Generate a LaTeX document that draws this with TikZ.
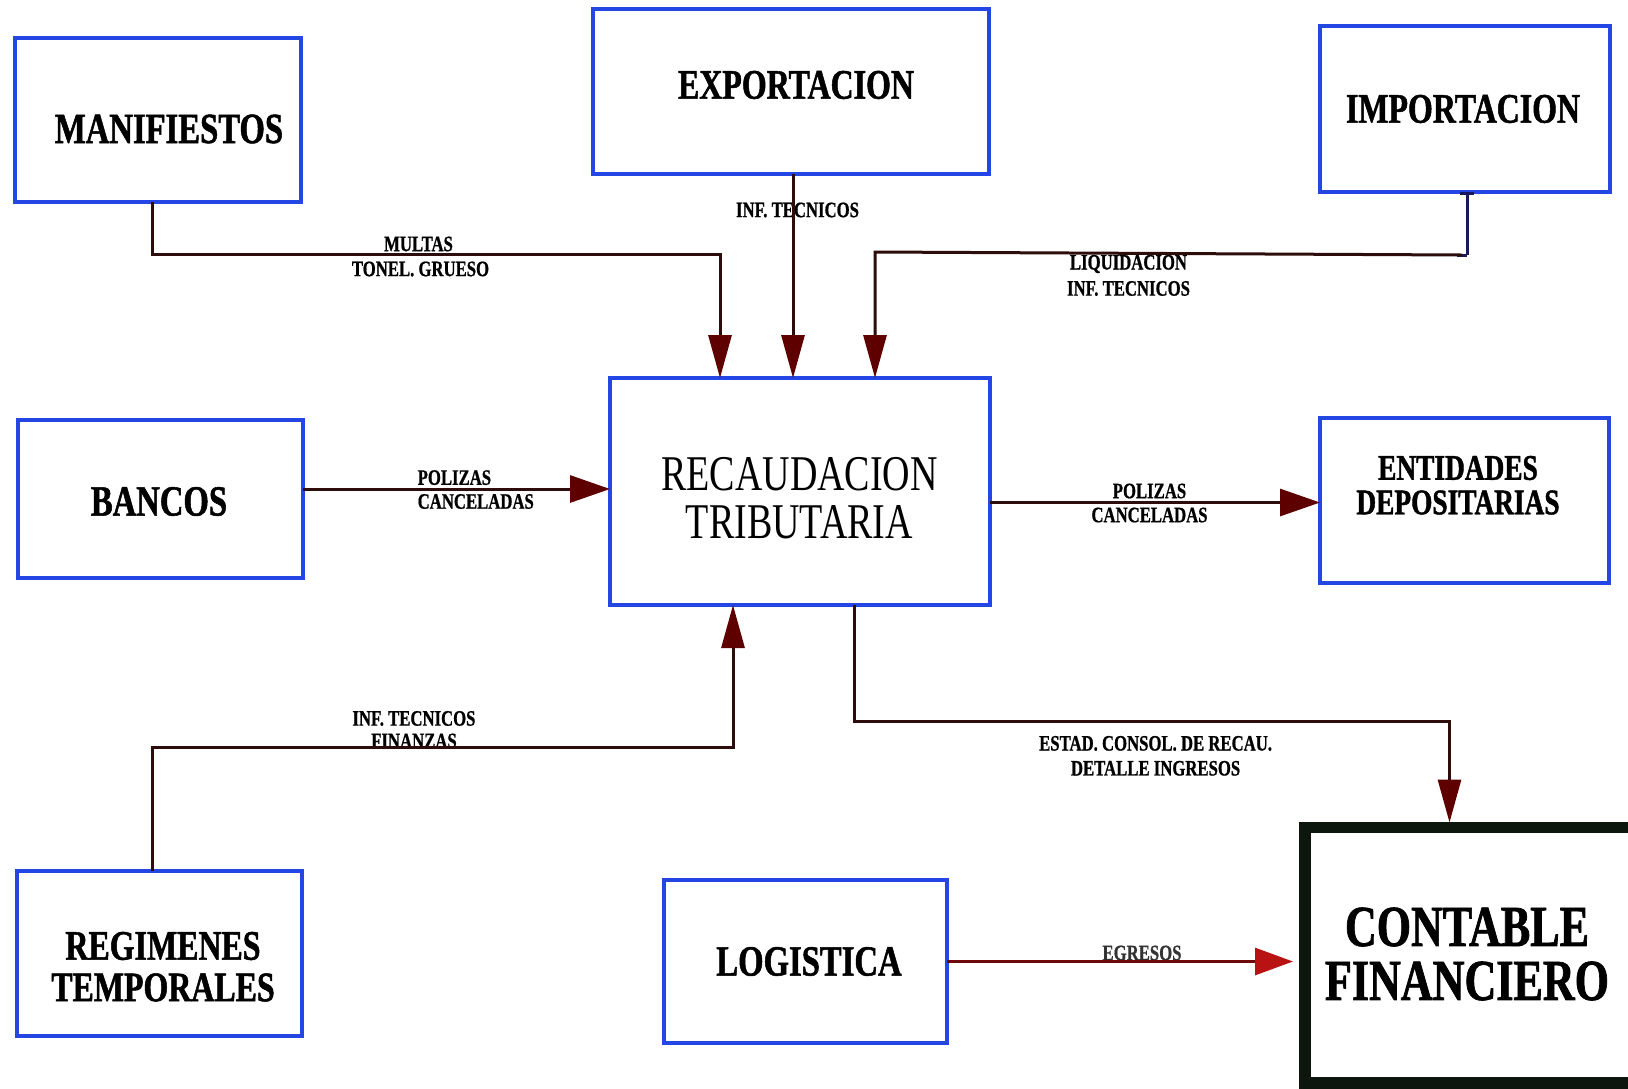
\documentclass[tikz,border=0pt]{standalone}
\usepackage{fontspec}
\setmainfont{Liberation Serif}
\newfontfamily\boxfont[FakeStretch=0.76, BoldFeatures={FakeBold=1.2}]{Liberation Serif}
\newfontfamily\lblfont[FakeStretch=0.76, BoldFeatures={FakeBold=0.8}]{Liberation Serif}
\usetikzlibrary{arrows.meta,calc}

\definecolor{boxblue}{RGB}{35,70,228}
\definecolor{flowline}{RGB}{45,12,12}
\definecolor{tipred}{RGB}{95,0,0}
\definecolor{brightred}{RGB}{185,18,18}
\definecolor{navyline}{RGB}{25,25,90}
\definecolor{framedark}{RGB}{12,22,12}

\begin{document}
\begin{tikzpicture}[x=1pt,y=-1pt,
  box/.style={draw=boxblue, line width=4.5pt, inner sep=0pt, outer sep=0pt, rectangle},
  bigbox/.style={draw=framedark, line width=11.5pt, inner sep=0pt, outer sep=0pt, rectangle},
  title/.style={inner sep=0pt, align=center, font=\boxfont\bfseries\fontsize{#1}{#1}\selectfont},
  lbl/.style={inner sep=0pt, align=center, font=\lblfont\bfseries\fontsize{22}{24.5}\selectfont},
  flow/.style={draw=flowline, line width=3pt},
  tipv/.style={-{Triangle[length=43pt,width=23pt,color=tipred]}},
  tiph/.style={-{Triangle[length=40pt,width=27pt,color=tipred]}},
]
\clip (0,0) rectangle (1628,1088);
\fill[white] (0,0) rectangle (1628,1088);

% ---- boxes ----
\node[box, minimum width=286pt, minimum height=164pt] (man) at (158,120) {};
\node[box, minimum width=396pt, minimum height=165pt] (exp) at (791,91.5) {};
\node[box, minimum width=290pt, minimum height=166pt] (imp) at (1465,109) {};
\node[box, minimum width=380pt, minimum height=227pt] (rec) at (800,491.5) {};
\node[box, minimum width=285pt, minimum height=158pt] (ban) at (160.5,499) {};
\node[box, minimum width=289pt, minimum height=165pt] (ent) at (1464.5,500.5) {};
\node[box, minimum width=285pt, minimum height=165pt] (reg) at (159.5,953.5) {};
\node[box, minimum width=283pt, minimum height=163pt] (log) at (805.5,961.5) {};
\node[bigbox, minimum width=340pt, minimum height=255.5pt] (con) at (1475,955.25) {};

% ---- box titles ----
\node[title=43] (manT) at (169,129) {MANIFIESTOS};
\node[title=42] (expT) at (796,85) {EXPORTACION};
\node[title=42] (impT) at (1463,109) {IMPORTACION};
\node[inner sep=0pt, align=center, font=\boxfont\fontsize{50}{47.5}\selectfont] (recT) at (799.5,498.25) {RECAUDACION\\TRIBUTARIA};
\node[title=43] (banT) at (159,501.5) {BANCOS};
\node[inner sep=0pt, align=center, font=\boxfont\bfseries\fontsize{36}{34.5}\selectfont] (entT) at (1458,485.25) {ENTIDADES\\DEPOSITARIAS};
\node[inner sep=0pt, align=center, font=\boxfont\bfseries\fontsize{42}{41.5}\selectfont] (regT) at (163,966.75) {REGIMENES\\TEMPORALES};
\node[title=43] (logT) at (809,961.5) {LOGISTICA};
\node[inner sep=0pt, align=center, font=\boxfont\bfseries\fontsize{58}{54}\selectfont] (conT) at (1467,954) {CONTABLE\\FINANCIERO};

% ---- connector labels ----
\node[lbl] (l1a) at (418.5,244) {MULTAS};
\node[lbl] (l1b) at (420.5,269) {TONEL. GRUESO};
\node[lbl] (l2) at (797.5,210) {INF. TECNICOS};
\node[lbl] (l3a) at (1128.5,264) {LIQUIDACION};
\node[lbl] (l3b) at (1128.5,288.5) {INF. TECNICOS};
\node[lbl, anchor=west] (l4a) at (417.5,477.6) {POLIZAS};
\node[lbl, anchor=west] (l4b) at (417.5,501.5) {CANCELADAS};
\node[lbl] (l5a) at (1149.5,491) {POLIZAS};
\node[lbl] (l5b) at (1149.5,515) {CANCELADAS};
\node[lbl] (l6a) at (414,718.5) {INF. TECNICOS};
\node[lbl] (l6b) at (414,741) {FINANZAS};
\node[lbl] (l7a) at (1155.6,743.4) {ESTAD. CONSOL. DE RECAU.};
\node[lbl] (l7b) at (1155.6,768.3) {DETALLE INGRESOS};
\node[lbl, text=black!80] (l8) at (1142,953) {EGRESOS};

% ---- attachment points ----
\coordinate (m1) at ($(man.south)+(-6,0)$);
\coordinate (r1) at ($(rec.north)+(-80,0)$);
\coordinate (r2) at ($(rec.north)+(-7,0)$);
\coordinate (r3) at ($(rec.north)+(75,0)$);
\coordinate (i1) at ($(imp.south)+(2,0)$);
\coordinate (b1) at ($(ban.east)+(0,-10)$);
\coordinate (e1) at ($(ent.west)+(0,2)$);
\coordinate (g1) at ($(reg.north)+(-7,0)$);
\coordinate (r4) at ($(rec.south)+(-67,0)$);
\coordinate (r5) at ($(rec.south)+(54.5,0)$);
\coordinate (k1) at ($(con.north)+(-25.5,0)$);
\coordinate (i2) at ($(i1)+(0,63)$);

% ---- connectors ----
% MANIFIESTOS -> RECAUDACION
\draw[flow, tipv] (m1) |- ($(r1)+(0,-124)$) -- (r1);
% EXPORTACION -> RECAUDACION
\draw[flow, tipv] (exp.south -| r2) -- (r2);
% IMPORTACION -> RECAUDACION
\draw[draw=navyline, line width=3pt, {Bar[width=14pt,line width=3pt]}-] (i1) -- (i2);
\draw[draw=navyline, line width=3pt] (i2) -- ++(-10,0);
\draw[flow, tipv] ($(i2)+(-5,0)$) -- ($(r3)+(0,-126)$) -- (r3);
% BANCOS -> RECAUDACION
\draw[flow, tiph] (b1) -- (b1 -| rec.west);
% RECAUDACION -> ENTIDADES
\draw[flow, tiph] (rec.east |- e1) -- (e1);
% REGIMENES -> RECAUDACION
\draw[flow, tipv] (g1) |- ($(r4)+(0,142.6)$) -- (r4);
% RECAUDACION -> CONTABLE
\draw[flow, tipv, shorten >=5pt] (r5) |- ($(k1)+(0,-105.9)$) -- (k1);
% LOGISTICA -> CONTABLE
\draw[draw=flowline!70!red, line width=3pt, -{Triangle[length=38pt,width=27pt,color=brightred]}, shorten >=12pt] (log.east) -- (log.east -| con.west);
\end{tikzpicture}
\end{document}
